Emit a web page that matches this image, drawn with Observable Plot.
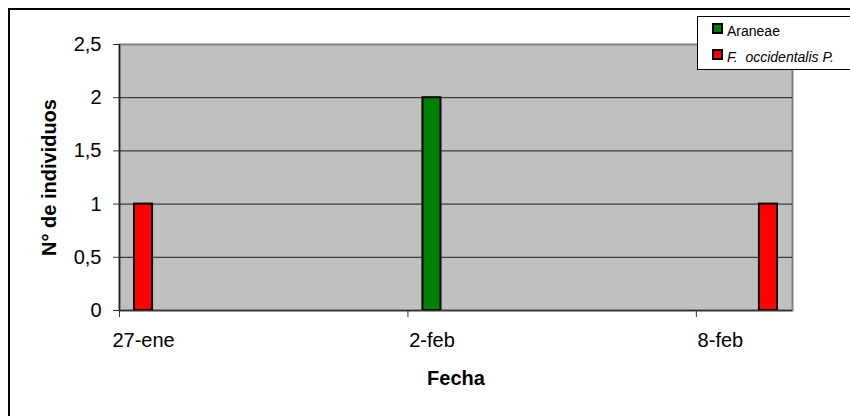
<!DOCTYPE html>
<html>
<head>
<meta charset="utf-8">
<script src="https://cdn.jsdelivr.net/npm/d3@7"></script>
<script src="https://cdn.jsdelivr.net/npm/@observablehq/plot@0.6"></script>
<style>
  html, body { margin: 0; padding: 0; background: #fff; overflow: hidden; }
  #chart { width: 850px; height: 416px; }
  .legend-pre { white-space: pre; }
</style>
</head>
<body>
<div id="chart"></div>
<script>
// Capturas por fecha de muestreo
const fechas = ["2009-01-27", "2009-02-02", "2009-02-09"];
const taxones = ["F.  occidentalis P.", "Araneae", "F.  occidentalis P."];
const individuos = [1, 2, 1];

// Series y colores de la leyenda
const series = ["Araneae", "F.  occidentalis P."];
const colores = ["#008000", "#ff0000"];

// Ejes
const yTicks = [0, 0.5, 1, 1.5, 2, 2.5];
const xTicks = ["2009-01-27", "2009-02-02", "2009-02-08"];
const xDominio = ["2009-01-27", "2009-02-10"];
const meses = ["ene", "feb", "mar", "abr", "may", "jun", "jul", "ago", "sep", "oct", "nov", "dic"];

const parse = d3.utcParse("%Y-%m-%d");
const datos = fechas.map((f, i) => ({ fecha: parse(f), taxon: taxones[i], n: individuos[i] }));
const ticksX = xTicks.map(parse);
const fmtFecha = d => `${d.getUTCDate()}-${meses[d.getUTCMonth()]}`;
const fmtNum = d => String(d).replace(".", ",");

const fuente = "'Liberation Sans', Arial, sans-serif";

const plot = Plot.plot({
  width: 850,
  height: 416,
  marginLeft: 119,
  marginRight: 58,
  marginTop: 44,
  marginBottom: 106,
  style: { fontFamily: fuente, fontSize: "20px", color: "#000", background: "transparent", overflow: "visible" },
  x: { type: "utc", domain: xDominio.map(parse) },
  y: { domain: [0, 2.5] },
  color: { domain: series, range: colores },
  marks: [
    Plot.frame({ fill: "#c0c0c0", stroke: "#808080", strokeWidth: 2 }),
    Plot.gridY(yTicks.filter(v => v > 0 && v < 2.5), { stroke: "#000", strokeOpacity: 0.85 }),
    Plot.rectY(datos, {
      x1: "fecha",
      x2: d => d3.utcDay.offset(d.fecha, 1),
      y: "n",
      fill: "taxon",
      stroke: "#000",
      strokeWidth: 2,
      insetLeft: 15,
      insetRight: 15
    }),
    Plot.ruleY([0], { stroke: "#333", strokeWidth: 1.5 }),
    Plot.ruleX([parse(xDominio[0])], { stroke: "#222", strokeWidth: 1.5 }),
    Plot.axisY(yTicks, {
      tickSize: 6,
      tickPadding: 12,
      tickFormat: fmtNum,
      fontSize: 20,
      stroke: "#333",
      label: null
    }),
    Plot.axisX(ticksX, {
      tickSize: 7,
      tickFormat: () => "",
      stroke: "#333",
      label: null
    }),
    Plot.text(ticksX, {
      x: d => d3.utcHour.offset(d, 12),
      y: () => 0,
      text: fmtFecha,
      lineAnchor: "top",
      dy: 22,
      fontSize: 20,
      fill: "#000"
    }),
    Plot.text(["Fecha"], {
      frameAnchor: "bottom",
      lineAnchor: "top",
      dy: 60,
      fontSize: 20,
      fontWeight: "bold",
      fill: "#000"
    }),
    Plot.text(["N° de individuos"], {
      frameAnchor: "left",
      textAnchor: "middle",
      lineAnchor: "middle",
      rotate: -90,
      dx: -69.5,
      fontSize: 20,
      fontWeight: "bold",
      fill: "#000"
    })
  ]
});

const svg = d3.select(plot);

// Marco exterior del gráfico
svg.insert("rect", ":first-child")
  .attr("x", 9).attr("y", 9)
  .attr("width", 900).attr("height", 500)
  .attr("fill", "none").attr("stroke", "#000").attr("stroke-width", 2);

// Leyenda
const leyenda = svg.append("g")
  .attr("font-family", fuente)
  .attr("font-size", 14)
  .attr("text-anchor", "start");
leyenda.append("rect")
  .attr("x", 697.5).attr("y", 16.5)
  .attr("width", 200).attr("height", 53)
  .attr("fill", "#fff").attr("stroke", "#000").attr("stroke-width", 1);
series.forEach((s, i) => {
  const y0 = 24 + i * 26;
  leyenda.append("rect")
    .attr("x", 713).attr("y", y0)
    .attr("width", 9).attr("height", 9)
    .attr("fill", colores[i]).attr("stroke", "#000").attr("stroke-width", 2);
  leyenda.append("text")
    .attr("x", 727).attr("y", y0 + 12)
    .attr("class", "legend-pre")
    .attr("text-anchor", "start")
    .attr("font-style", i === 1 ? "italic" : "normal")
    .attr("fill", "#000")
    .text(s);
});

document.getElementById("chart").append(plot);
</script>
</body>
</html>
